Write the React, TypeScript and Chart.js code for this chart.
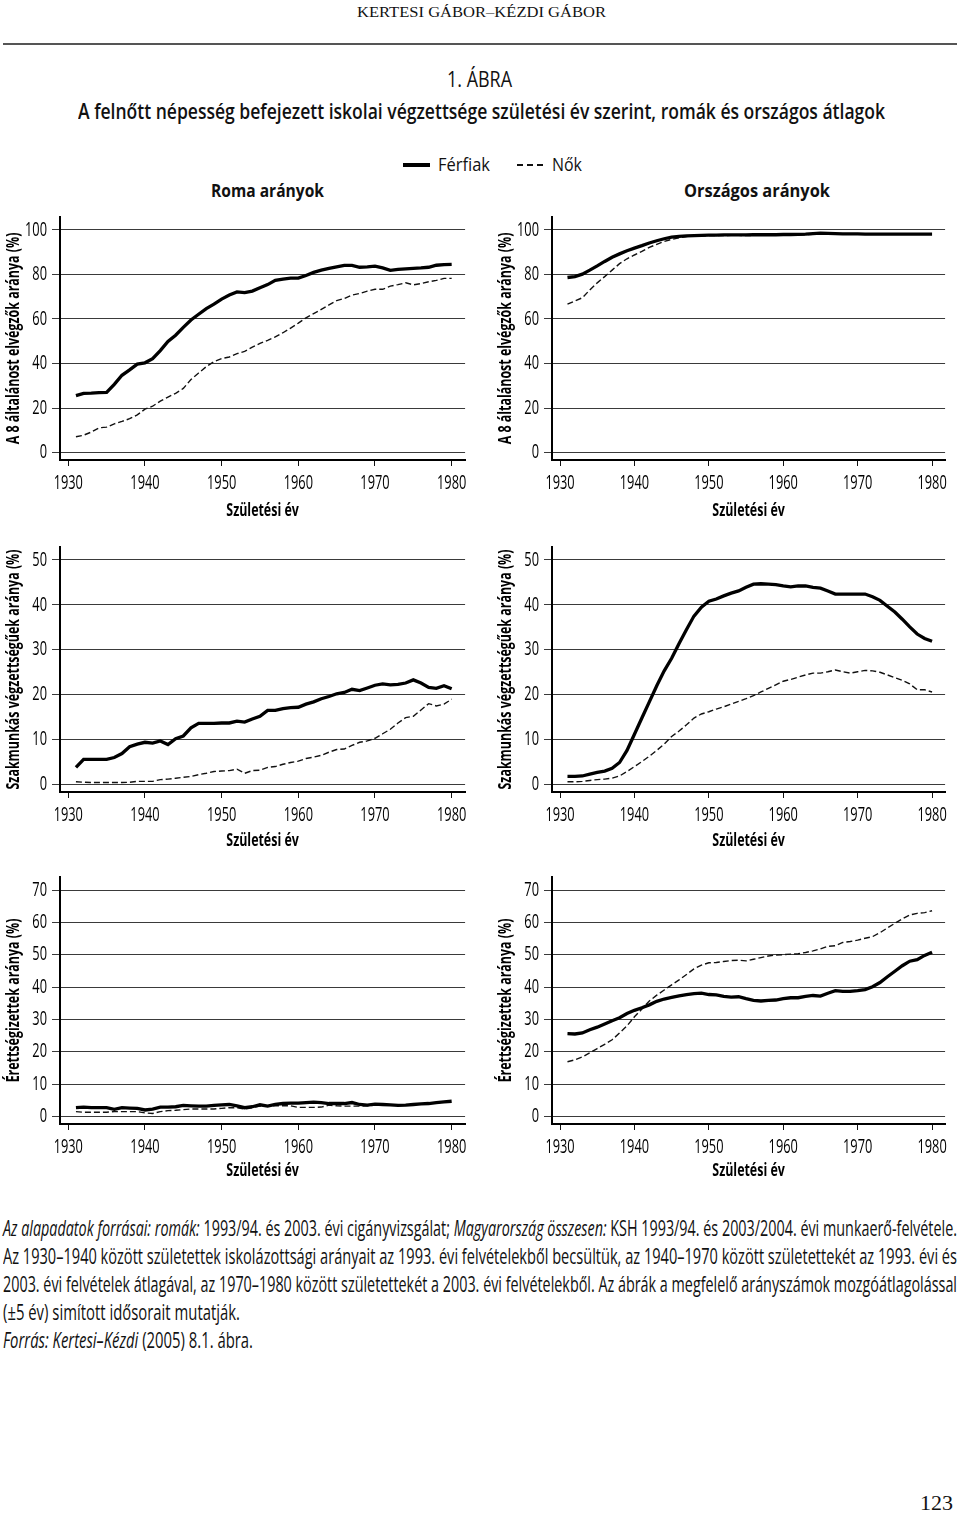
import React, { useEffect, useLayoutEffect, useRef } from "react";
import { Chart, registerables } from "chart.js";

Chart.register(...registerables);

// ---------- DATA ----------
const YEARS = [
  1931, 1932, 1933, 1934, 1935, 1936, 1937, 1938, 1939, 1940,
  1941, 1942, 1943, 1944, 1945, 1946, 1947, 1948, 1949, 1950,
  1951, 1952, 1953, 1954, 1955, 1956, 1957, 1958, 1959, 1960,
  1961, 1962, 1963, 1964, 1965, 1966, 1967, 1968, 1969, 1970,
  1971, 1972, 1973, 1974, 1975, 1976, 1977, 1978, 1979, 1980,
];
const X_TICKS = [1930, 1940, 1950, 1960, 1970, 1980];
const Y_TICKS_8 = [0, 20, 40, 60, 80, 100];
const Y_TICKS_SZAK = [0, 10, 20, 30, 40, 50];
const Y_TICKS_ERETT = [0, 10, 20, 30, 40, 50, 60, 70];

// Roma – 8 általános
const ROMA_8_FERFI = [
  25.6, 26.6, 26.7, 26.9, 27.0, 30.6, 34.7, 37.1, 39.7, 40.3,
  42.2, 45.8, 49.9, 52.7, 56.2, 59.5, 62.1, 64.6, 66.6, 68.9,
  70.7, 72.1, 71.8, 72.5, 74.0, 75.4, 77.3, 77.9, 78.3, 78.3,
  79.5, 80.9, 81.9, 82.7, 83.4, 84.0, 84.0, 83.2, 83.4, 83.7,
  82.9, 81.8, 82.2, 82.5, 82.7, 82.9, 83.2, 84.1, 84.4, 84.5,
];
const ROMA_8_NO = [
  7.1, 7.8, 9.2, 11.1, 11.4, 12.9, 14.0, 15.2, 16.9, 19.5,
  20.8, 23.1, 24.9, 26.6, 28.8, 32.8, 35.7, 38.6, 40.8, 42.2,
  42.9, 44.4, 45.4, 47.3, 49.0, 50.4, 51.9, 53.8, 55.9, 58.1,
  60.5, 62.4, 64.3, 66.3, 68.2, 69.2, 70.7, 71.4, 72.5, 73.3,
  73.3, 74.7, 75.4, 76.2, 75.3, 75.9, 76.7, 77.3, 78.2, 78.2,
];
// Országos – 8 általános
const ORSZ_8_FERFI = [
  78.6, 79.0, 80.1, 81.9, 83.8, 85.8, 87.7, 89.2, 90.6, 91.8,
  92.9, 94.1, 95.1, 96.0, 96.7, 97.1, 97.3, 97.4, 97.5, 97.6,
  97.6, 97.7, 97.7, 97.7, 97.7, 97.8, 97.8, 97.8, 97.8, 97.9,
  97.9, 98.0, 98.1, 98.3, 98.5, 98.4, 98.3, 98.2, 98.2, 98.2,
  98.1, 98.1, 98.1, 98.1, 98.1, 98.1, 98.1, 98.1, 98.1, 98.1,
];
const ORSZ_8_NO = [
  66.6, 68.1, 69.5, 73.0, 76.2, 79.0, 81.9, 84.8, 87.0, 88.7,
  90.3, 92.1, 93.5, 94.8, 95.7, 96.4, 97.0, 97.3, 97.3, 97.4,
  97.4, 97.4, 97.5, 97.5, 97.4, 97.5, 97.5, 97.6, 97.6, 97.6,
  97.6, 97.7, 97.8, 98.0, 98.2, 98.2, 98.1, 98.1, 98.1, 98.1,
  98.0, 98.0, 98.0, 98.0, 98.0, 98.0, 98.0, 98.0, 98.0, 98.0,
];
// Roma – szakmunkás
const ROMA_SZAK_FERFI = [
  3.8, 5.6, 5.6, 5.6, 5.6, 6.0, 6.9, 8.4, 9.0, 9.4,
  9.2, 9.7, 8.9, 10.2, 10.8, 12.6, 13.6, 13.6, 13.6, 13.7,
  13.7, 14.1, 13.9, 14.6, 15.2, 16.5, 16.5, 16.9, 17.1, 17.2,
  17.9, 18.4, 19.1, 19.6, 20.2, 20.5, 21.2, 20.9, 21.5, 22.1,
  22.4, 22.2, 22.3, 22.6, 23.3, 22.6, 21.6, 21.4, 22.0, 21.3,
];
const ROMA_SZAK_NO = [
  0.6, 0.5, 0.45, 0.45, 0.45, 0.45, 0.45, 0.5, 0.7, 0.7,
  0.7, 1.1, 1.2, 1.4, 1.6, 1.8, 2.2, 2.5, 2.9, 3.0,
  3.1, 3.4, 2.5, 3.1, 3.2, 3.8, 4.0, 4.5, 4.9, 5.2,
  5.8, 6.1, 6.5, 7.2, 7.8, 7.9, 8.7, 9.4, 9.7, 10.3,
  11.3, 12.3, 13.7, 14.9, 15.2, 16.6, 18.0, 17.5, 17.9, 19.0,
];
// Országos – szakmunkás
const ORSZ_SZAK_FERFI = [
  1.8, 1.8, 1.9, 2.3, 2.7, 3.0, 3.6, 4.9, 7.6, 11.2,
  14.8, 18.4, 22.0, 25.3, 28.1, 31.4, 34.5, 37.5, 39.5, 40.8,
  41.3, 42.0, 42.6, 43.1, 43.9, 44.6, 44.7, 44.6, 44.5, 44.2,
  44.0, 44.2, 44.2, 43.9, 43.7, 43.1, 42.4, 42.4, 42.4, 42.4,
  42.4, 41.8, 41.0, 39.7, 38.4, 36.8, 35.1, 33.5, 32.5, 31.9,
];
const ORSZ_SZAK_NO = [
  0.6, 0.6, 0.7, 0.9, 1.1, 1.2, 1.4, 1.9, 2.9, 4.0,
  5.1, 6.3, 7.6, 9.0, 10.7, 11.9, 13.3, 14.8, 15.7, 16.2,
  16.8, 17.3, 17.9, 18.5, 19.1, 19.8, 20.6, 21.4, 22.2, 23.0,
  23.4, 23.9, 24.4, 24.8, 24.8, 25.1, 25.5, 25.1, 24.8, 25.1,
  25.4, 25.3, 25.0, 24.4, 23.8, 23.2, 22.4, 21.1, 21.1, 20.6,
];
// Roma – érettségi
const ROMA_ERETT_FERFI = [
  2.7, 2.9, 2.7, 2.7, 2.7, 2.2, 2.7, 2.6, 2.5, 2.0,
  2.3, 2.9, 2.9, 3.0, 3.4, 3.3, 3.2, 3.2, 3.4, 3.6,
  3.7, 3.3, 2.7, 3.0, 3.6, 3.2, 3.7, 4.0, 4.1, 4.1,
  4.3, 4.4, 4.3, 4.0, 4.0, 4.0, 4.3, 3.7, 3.5, 3.8,
  3.7, 3.6, 3.4, 3.5, 3.7, 3.9, 4.0, 4.3, 4.5, 4.7,
];
const ROMA_ERETT_NO = [
  1.5, 1.3, 1.3, 1.3, 1.3, 1.5, 1.5, 1.5, 1.5, 1.1,
  0.9, 1.5, 1.8, 1.9, 2.1, 2.3, 2.3, 2.3, 2.3, 2.5,
  2.7, 2.7, 2.3, 2.7, 3.2, 3.2, 3.3, 3.3, 3.3, 2.8,
  2.8, 2.8, 2.9, 3.5, 3.3, 3.2, 3.2, 3.2, 3.3, 3.5,
  3.6, 3.6, 3.4, 3.5, 3.7, 3.9, 4.0, 4.2, 4.4, 4.6,
];
// Országos – érettségi
const ORSZ_ERETT_FERFI = [
  25.6, 25.5, 25.8, 26.8, 27.6, 28.6, 29.6, 30.5, 31.8, 32.8,
  33.6, 34.5, 35.6, 36.3, 36.8, 37.3, 37.7, 38.0, 38.1, 37.7,
  37.6, 37.1, 36.9, 37.0, 36.4, 35.9, 35.7, 35.9, 36.0, 36.4,
  36.7, 36.7, 37.1, 37.4, 37.2, 38.1, 38.9, 38.7, 38.7, 38.9,
  39.2, 40.1, 41.4, 43.2, 44.9, 46.6, 48.0, 48.5, 49.8, 50.8,
];
const ORSZ_ERETT_NO = [
  16.9, 17.5, 18.4, 19.7, 21.0, 22.3, 23.7, 25.8, 28.0, 30.8,
  33.2, 35.7, 37.5, 39.1, 40.7, 42.2, 43.9, 45.6, 46.8, 47.5,
  47.6, 47.9, 48.2, 48.3, 48.1, 48.6, 49.1, 49.6, 49.9, 50.0,
  50.2, 50.3, 50.7, 51.2, 51.8, 52.6, 52.8, 53.8, 54.1, 54.5,
  55.1, 55.6, 56.8, 58.3, 59.7, 61.1, 62.3, 62.8, 63.0, 63.6,
];

// ---------- STYLE ----------
const SANS = "'Open Sans', 'Noto Sans', 'Liberation Sans', sans-serif";
const SERIF = "'Liberation Serif', 'DejaVu Serif', serif";
const INK = "#111";
const TICK_SX = 0.64; // horizontal condensing of canvas tick labels
const TITLE_SX = 0.69; // horizontal condensing of canvas axis titles

// Draw canvas text horizontally condensed (imitating a condensed typeface)
const condensePlugin = {
  id: "condense",
  beforeDraw(chart: any) {
    const ctx = chart.ctx as any;
    if (ctx.__condensed) return;
    ctx.__condensed = true;
    const orig = ctx.fillText.bind(ctx);
    ctx.fillText = (text: string, x: number, y: number) => {
      const s = /600|700|bold/.test(ctx.font) ? TITLE_SX : TICK_SX;
      ctx.save();
      ctx.translate(x, y);
      ctx.scale(s, 1);
      orig(text, 0, 0);
      ctx.restore();
    };
  },
};

type PanelProps = {
  left: number;
  top: number;
  width: number;
  padTop: number;
  padRight: number;
  men: number[];
  women: number[];
  yTicks: number[];
  yTitle: string;
};

const CANVAS_H = 330;
const AREA_H = 252;
const BOTTOM_GAP = 7.7; // px between 0 gridline and x axis
const TOP_GAP = 13.3; // px between top gridline and top of y axis
const X_MIN = 1928.92;
const X_MAX = 1981.75;

function Panel(p: PanelProps) {
  const ref = useRef<HTMLCanvasElement | null>(null);
  useEffect(() => {
    if (!ref.current) return;
    const topTick = p.yTicks[p.yTicks.length - 1];
    const span = AREA_H - BOTTOM_GAP - TOP_GAP;
    const perPx = topTick / span;
    const yMin = -BOTTOM_GAP * perPx;
    const yMax = topTick + TOP_GAP * perPx;
    const xH = CANVAS_H - p.padTop - AREA_H;
    const chart = new Chart(ref.current, {
      type: "line",
      data: {
        datasets: [
          {
            label: "Férfiak",
            data: YEARS.map((x, i) => ({ x, y: p.men[i] })),
            borderColor: "#000",
            borderWidth: 3.3,
            pointRadius: 0,
            tension: 0,
            fill: false,
          },
          {
            label: "Nők",
            data: YEARS.map((x, i) => ({ x, y: p.women[i] })),
            borderColor: "#111",
            borderWidth: 1.4,
            borderDash: [6, 3],
            pointRadius: 0,
            tension: 0,
            fill: false,
          },
        ],
      },
      options: {
        animation: false,
        responsive: false,
        events: [],
        layout: { padding: { top: p.padTop, right: p.padRight, left: 0, bottom: 0 } },
        plugins: { legend: { display: false }, tooltip: { enabled: false } },
        scales: {
          x: {
            type: "linear",
            min: X_MIN,
            max: X_MAX,
            afterBuildTicks: (s: any) => {
              s.ticks = X_TICKS.map((v) => ({ value: v }));
            },
            afterFit: (s: any) => {
              s.height = xH;
            },
            grid: { display: true, drawOnChartArea: false, drawTicks: true, tickLength: 6, color: INK, lineWidth: 1 },
            border: { display: true, color: "#000", width: 2 },
            ticks: {
              autoSkip: false,
              maxRotation: 0,
              padding: 5,
              color: "#000",
              font: { family: SANS, size: 20 },
              callback: (v: any) => String(v),
            },
            title: {
              display: true,
              text: "Születési év",
              color: "#000",
              font: { family: SANS, size: 18, weight: "700" },
              padding: { top: 0, bottom: 8 },
            },
          },
          y: {
            type: "linear",
            min: yMin,
            max: yMax,
            afterBuildTicks: (s: any) => {
              s.ticks = p.yTicks.map((v) => ({ value: v }));
            },
            afterFit: (s: any) => {
              s.width = 60;
            },
            grid: { display: true, drawOnChartArea: true, drawTicks: true, tickLength: 8, color: "#3a3a3a", lineWidth: 1 },
            border: { display: true, color: "#000", width: 2 },
            ticks: {
              autoSkip: false,
              padding: 5,
              color: "#000",
              font: { family: SANS, size: 20 },
              callback: (v: any) => String(v),
            },
            title: {
              display: true,
              text: p.yTitle,
              color: "#000",
              font: { family: SANS, size: 18, weight: "700" },
              padding: { top: 3, bottom: 0 },
            },
          },
        },
      },
      plugins: [condensePlugin],
    } as any);
    return () => chart.destroy();
  }, []);
  return (
    <canvas
      ref={ref}
      width={p.width}
      height={CANVAS_H}
      style={{ position: "absolute", left: p.left, top: p.top, width: p.width, height: CANVAS_H }}
    />
  );
}

// HTML text squeezed horizontally to a target box (x .. x+w), vertically centred on y
function FitText(props: { x: number; y: number; w: number; size: number; style?: any; children: any }) {
  const ref = useRef<HTMLSpanElement | null>(null);
  useLayoutEffect(() => {
    const el = ref.current;
    if (!el) return;
    el.style.transform = "none";
    const nat = el.getBoundingClientRect().width;
    if (nat > 0) el.style.transform = `scaleX(${props.w / nat})`;
  }, []);
  const h = 40;
  return (
    <div
      style={{
        position: "absolute",
        left: props.x,
        top: props.y - h / 2,
        height: h,
        lineHeight: h + "px",
        whiteSpace: "nowrap",
        fontFamily: SANS,
        fontSize: props.size,
        color: INK,
        ...props.style,
      }}
    >
      <span ref={ref} style={{ display: "inline-block", transformOrigin: "0 50%" }}>
        {props.children}
      </span>
    </div>
  );
}

const Y_TITLE_8 = "A 8 általánost elvégzők aránya (%)";
const Y_TITLE_SZAK = "Szakmunkás végzettségűek aránya (%)";
const Y_TITLE_ERETT = "Érettségizettek aránya (%)";

export default function App() {
  const LX = 0;
  const RX = 492;
  const LW = 480;
  const RW = 468;
  const FS = 21;
  return (
    <div
      style={{
        position: "absolute",
        left: 0,
        top: 0,
        width: 960,
        height: 1523,
        overflow: "hidden",
        background: "#fff",
      }}
    >
      <FitText x={357} y={12} w={249} size={15} style={{ fontFamily: SERIF }}>
        KERTESI GÁBOR–KÉZDI GÁBOR
      </FitText>
      <div style={{ position: "absolute", left: 3, top: 43, width: 954, height: 2, background: "#555" }} />
      <FitText x={447} y={78} w={65} size={22}>
        1. ÁBRA
      </FitText>
      <FitText x={78} y={110} w={807} size={22} style={{ fontWeight: 600 }}>
        A felnőtt népesség befejezett iskolai végzettsége születési év szerint, romák és országos átlagok
      </FitText>

      {/* legend */}
      <div style={{ position: "absolute", left: 403, top: 163, width: 27, height: 3.5, background: "#000" }} />
      <FitText x={438} y={164} w={52} size={18}>
        Férfiak
      </FitText>
      <div style={{ position: "absolute", left: 517, top: 164, width: 6, height: 1.5, background: "#111" }} />
      <div style={{ position: "absolute", left: 527, top: 164, width: 6, height: 1.5, background: "#111" }} />
      <div style={{ position: "absolute", left: 537, top: 164, width: 6, height: 1.5, background: "#111" }} />
      <FitText x={552} y={164} w={30} size={18}>
        Nők
      </FitText>

      <FitText x={211} y={190} w={113} size={18} style={{ fontWeight: 700 }}>
        Roma arányok
      </FitText>
      <FitText x={684} y={190} w={146} size={18} style={{ fontWeight: 700 }}>
        Országos arányok
      </FitText>

      <Panel left={LX} top={200} width={LW} padTop={8} padRight={14} men={ROMA_8_FERFI} women={ROMA_8_NO} yTicks={Y_TICKS_8} yTitle={Y_TITLE_8} />
      <Panel left={RX} top={200} width={RW} padTop={8} padRight={2} men={ORSZ_8_FERFI} women={ORSZ_8_NO} yTicks={Y_TICKS_8} yTitle={Y_TITLE_8} />
      <Panel left={LX} top={530} width={LW} padTop={10} padRight={14} men={ROMA_SZAK_FERFI} women={ROMA_SZAK_NO} yTicks={Y_TICKS_SZAK} yTitle={Y_TITLE_SZAK} />
      <Panel left={RX} top={530} width={RW} padTop={10} padRight={2} men={ORSZ_SZAK_FERFI} women={ORSZ_SZAK_NO} yTicks={Y_TICKS_SZAK} yTitle={Y_TITLE_SZAK} />
      <Panel left={LX} top={860} width={LW} padTop={12} padRight={14} men={ROMA_ERETT_FERFI} women={ROMA_ERETT_NO} yTicks={Y_TICKS_ERETT} yTitle={Y_TITLE_ERETT} />
      <Panel left={RX} top={860} width={RW} padTop={12} padRight={2} men={ORSZ_ERETT_FERFI} women={ORSZ_ERETT_NO} yTicks={Y_TICKS_ERETT} yTitle={Y_TITLE_ERETT} />

      {/* footer */}
      <FitText x={3} y={1228} w={954} size={FS}>
        <i>Az alapadatok forrásai: romák:</i> 1993/94. és 2003. évi cigányvizsgálat; <i>Magyarország összesen:</i> KSH 1993/94. és 2003/2004. évi munkaerő-felvétele.
      </FitText>
      <FitText x={3} y={1256} w={954} size={FS}>
        Az 1930–1940 között születettek iskolázottsági arányait az 1993. évi felvételekből becsültük, az 1940–1970 között születettekét az 1993. évi és
      </FitText>
      <FitText x={3} y={1284} w={954} size={FS}>
        2003. évi felvételek átlagával, az 1970–1980 között születettekét a 2003. évi felvételekből. Az ábrák a megfelelő arányszámok mozgóátlagolással
      </FitText>
      <FitText x={3} y={1312} w={237} size={FS}>
        (±5 év) simított idősorait mutatják.
      </FitText>
      <FitText x={3} y={1340} w={250} size={FS}>
        <i>Forrás: Kertesi–Kézdi</i> (2005) 8.1. ábra.
      </FitText>
      <FitText x={920} y={1503} w={33} size={20} style={{ fontFamily: SERIF }}>
        123
      </FitText>
    </div>
  );
}
